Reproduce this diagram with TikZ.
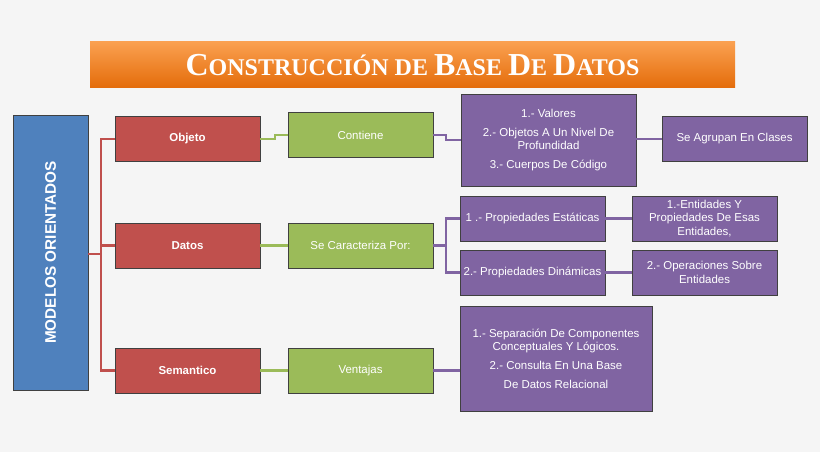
\documentclass[tikz,border=0pt]{standalone}
\usepackage{fontspec}
\setmainfont{Liberation Sans}
\newfontfamily\titlefont{Liberation Serif}
\begin{document}
\begin{tikzpicture}[x=0.75pt,y=-0.75pt,
  bx/.style={draw=black!75,line width=0.6pt,text=white,align=center,font=\fontsize{8.6}{10}\selectfont,inner sep=1pt},
  rbox/.style={bx,fill={rgb,255:red,192;green,80;blue,77},font=\bfseries\fontsize{8.6}{10}\selectfont},
  gbox/.style={bx,fill={rgb,255:red,155;green,187;blue,89}},
  pbox/.style={bx,fill={rgb,255:red,128;green,100;blue,162}},
  rl/.style={draw={rgb,255:red,192;green,80;blue,77},line width=1.6pt},
  gl/.style={draw={rgb,255:red,155;green,187;blue,89},line width=1.6pt},
  pl/.style={draw={rgb,255:red,128;green,100;blue,162},line width=1.6pt}]
\fill[gray!8] (0,0) rectangle (820,452);
\node[draw=none,top color={rgb,255:red,250;green,160;blue,80},bottom color={rgb,255:red,228;green,108;blue,10},minimum width=645*0.75pt,minimum height=46*0.75pt,inner sep=0pt,text=white] (title) at (412.5,65)
 {\titlefont\bfseries{\fontsize{24}{24}\selectfont C}{\fontsize{18}{18}\selectfont ONSTRUCCIÓN DE }{\fontsize{24}{24}\selectfont B}{\fontsize{18}{18}\selectfont ASE }{\fontsize{24}{24}\selectfont D}{\fontsize{18}{18}\selectfont E }{\fontsize{24}{24}\selectfont D}{\fontsize{18}{18}\selectfont ATOS}};
\node[bx,fill={rgb,255:red,79;green,129;blue,189},minimum width=75*0.75pt,minimum height=275*0.75pt,font=\bfseries\fontsize{11.5}{12}\selectfont] (mo) at (50.5,252.5) {\rotatebox{90}{MODELOS ORIENTADOS}};
\foreach \n/\t/\y in {obj/Objeto/139,dat/Datos/245.5,sem/Semantico/370.5}
  \node[rbox,minimum width=145*0.75pt,minimum height=45*0.75pt] (\n) at (187.5,\y) {\t};
\foreach \n/\t/\y in {con/Contiene/135,car/Se Caracteriza Por:/245.5,ven/Ventajas/370.5}
  \node[gbox,minimum width=145*0.75pt,minimum height=45*0.75pt] (\n) at (360.5,\y) {\t};
\node[pbox,minimum width=175*0.75pt,minimum height=92*0.75pt] (val) at (548.5,140) {1.- Valores\\[4pt]2.- Objetos A Un Nivel De\\Profundidad\\[4pt]3.- Cuerpos De Código};
\node[pbox,minimum width=145*0.75pt,minimum height=45*0.75pt] (agr) at (734.5,139) {Se Agrupan En Clases};
\node[pbox,minimum width=145*0.75pt,minimum height=45*0.75pt] (est) at (532.5,218.5) {1 .- Propiedades Estáticas};
\node[pbox,minimum width=145*0.75pt,minimum height=45*0.75pt] (din) at (532.5,272.5) {2.- Propiedades Dinámicas};
\node[pbox,minimum width=145*0.75pt,minimum height=45*0.75pt] (ent) at (704.5,218.5) {1.-Entidades Y\\Propiedades De Esas\\Entidades,};
\node[pbox,minimum width=145*0.75pt,minimum height=45*0.75pt] (ope) at (704.5,272.5) {2.- Operaciones Sobre\\Entidades};
\node[pbox,minimum width=192*0.75pt,minimum height=105*0.75pt] (vt) at (556,358.5) {1.- Separación De Componentes\\Conceptuales Y Lógicos.\\[4pt]2.- Consulta En Una Base\\[4pt]De Datos Relacional};
\coordinate (rj) at (101,254);
\draw[rl] (mo.east |- rj) -- (rj);
\foreach \n in {obj,dat,sem} \draw[rl] (rj) |- (\n.west);
\draw[gl] (obj.east) -- (275,139) -- (275,135) -- (con.west);
\draw[gl] (dat.east) -- (car.west);
\draw[gl] (sem.east) -- (ven.west);
\draw[pl] (con.east) -- (446,135) -- (446,140) -- (val.west);
\draw[pl] (val.east |- agr) -- (agr.west);
\coordinate (pj) at (446,245.5);
\draw[pl] (car.east) -- (pj);
\draw[pl] (pj) |- (est.west); \draw[pl] (pj) |- (din.west);
\draw[pl] (est.east) -- (ent.west);
\draw[pl] (din.east) -- (ope.west);
\draw[pl] (ven.east) -- (vt.west |- ven);
\end{tikzpicture}
\end{document}
